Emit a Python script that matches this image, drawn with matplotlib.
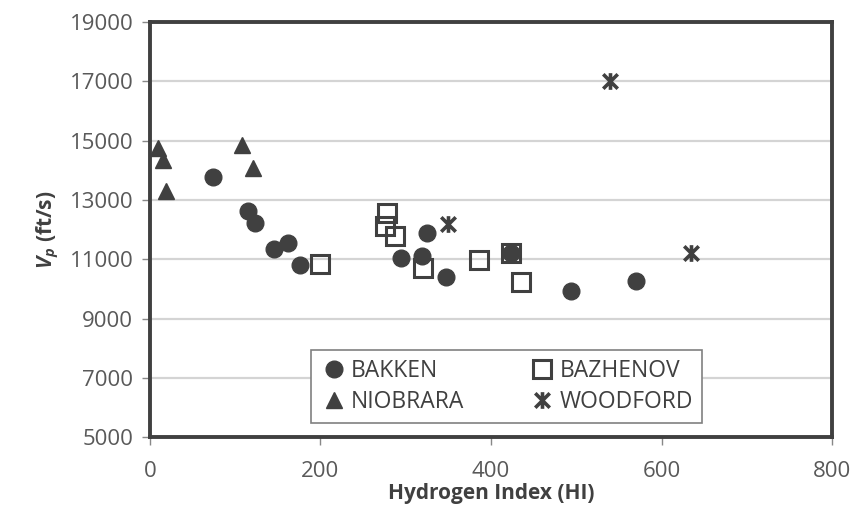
import matplotlib
matplotlib.use('Agg')
import matplotlib.pyplot as plt
from matplotlib.path import Path

plt.rcParams['font.family'] = ['Open Sans', 'DejaVu Sans']
plt.rcParams['mathtext.fontset'] = 'custom'
plt.rcParams['mathtext.it'] = 'Open Sans:italic:bold'
plt.rcParams['mathtext.rm'] = 'Open Sans:bold'

# Hydrogen index vs P-wave velocity by shale play
bakken_hi = [74, 115, 123, 145, 162, 176, 295, 319, 325, 347, 423, 494, 570]
bakken_vp = [13790, 12620, 12210, 11360, 11540, 10810, 11030, 11110, 11890, 10410, 11200, 9940, 10280]

bazhenov_hi = [200, 278, 276, 287, 320, 386, 423, 435]
bazhenov_vp = [10830, 12560, 12140, 11800, 10720, 10980, 11200, 10220]

niobrara_hi = [10, 15, 19, 108, 121]
niobrara_vp = [14740, 14350, 13290, 14850, 14070]

woodford_hi = [540, 349, 635]
woodford_vp = [17010, 12180, 11200]

dark = '#404040'
grey_txt = '#595959'

# X with a vertical stroke through it
star = Path([(-1, -1), (1, 1), (-1, 1), (1, -1), (0, -1.15), (0, 1.15)],
            [Path.MOVETO, Path.LINETO, Path.MOVETO, Path.LINETO, Path.MOVETO, Path.LINETO])

fig = plt.figure(figsize=(8.56, 5.15), dpi=100)
ax = fig.add_axes([0.1752, 0.151, 0.7968, 0.806])

ax.plot(bazhenov_hi, bazhenov_vp, 's', ms=13, mfc='none', mec=dark, mew=2.2, ls='none', label='BAZHENOV', zorder=3)
ax.plot(bakken_hi, bakken_vp, 'o', ms=12, color=dark, ls='none', label='BAKKEN', zorder=4)
ax.plot(niobrara_hi, niobrara_vp, '^', ms=12, color=dark, ls='none', label='NIOBRARA', zorder=4)
ax.plot(woodford_hi, woodford_vp, marker=star, ms=12, mec=dark, mew=2.6, ls='none', label='WOODFORD', zorder=4)

ax.set_xlim(0, 800)
ax.set_ylim(5000, 19000)
ax.set_xticks(range(0, 801, 200))
ax.set_yticks(range(5000, 19001, 2000))
ax.yaxis.grid(True, color='#d4d4d4', lw=1.6)
ax.set_axisbelow(True)

for s in ax.spines.values():
    s.set_color(dark)
    s.set_linewidth(2.8)

ax.tick_params(axis='both', direction='out', length=6, width=1, color='#888888',
               labelsize=16, labelcolor=grey_txt, pad=6)
ax.tick_params(axis='x', pad=11)

ax.set_xlabel('Hydrogen Index (HI)', fontsize=15, fontweight='bold', color=dark, labelpad=1)
ax.set_ylabel(r'$V_p$ (ft/s)', fontsize=15, fontweight='bold', color=dark, labelpad=6)

h, l = ax.get_legend_handles_labels()
order = [1, 2, 0, 3]
leg = ax.legend([h[i] for i in order], [l[i] for i in order], ncol=2,
                loc='lower left', bbox_to_anchor=(0.236, 0.034), borderaxespad=0,
                fancybox=False, edgecolor='#808080', framealpha=1, fontsize=16.5,
                handlelength=1.2, handletextpad=0.15, borderpad=0.4, labelspacing=0.3,
                columnspacing=2.8, markerscale=1.0)
leg.get_frame().set_linewidth(1.2)
for t in leg.get_texts():
    t.set_color(dark)

fig.savefig('out.png', dpi=100)
